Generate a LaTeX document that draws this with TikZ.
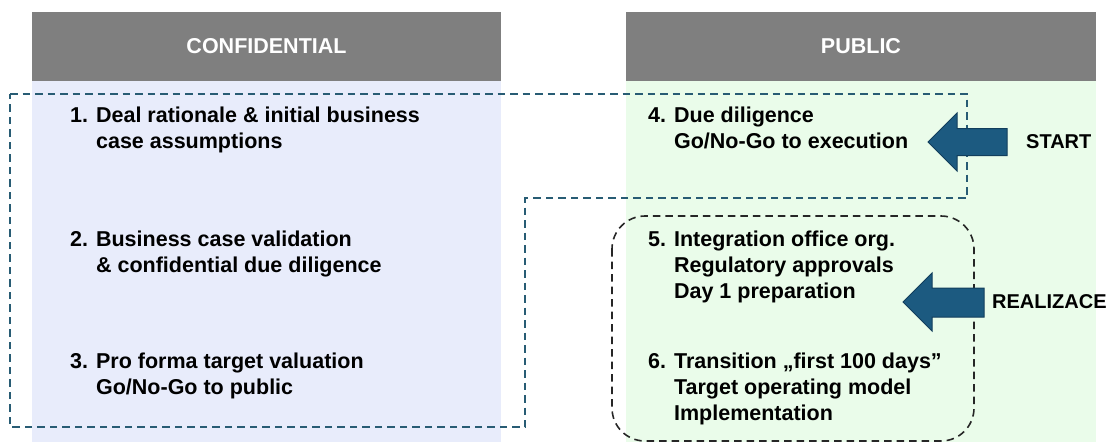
\documentclass[tikz,border=0pt]{standalone}
\usepackage{fontspec}
\setmainfont{Liberation Sans}
\usetikzlibrary{positioning}

\newcommand{\itemfont}{\bfseries\fontsize{21.5}{26}\selectfont}
\newcommand{\headfont}{\bfseries\fontsize{21.5}{24}\selectfont}
\newcommand{\sidefont}{\bfseries\fontsize{20}{24}\selectfont}

\begin{document}
\begin{tikzpicture}
	[x=1pt,y=-1pt,
	%Styles
	header/.style={fill=headgray,text=white,font=\headfont,minimum height=69pt,inner sep=0pt},
	item/.style={anchor=base west,inner sep=0pt,font=\itemfont},
	sidelabel/.style={anchor=west,inner sep=0pt,font=\sidefont},
	deal line/.style={draw=dealblue,line width=1.6pt,dash pattern=on 7.5pt off 5pt},
	real line/.style={draw=black!85,line width=1.6pt,dash pattern=on 7.5pt off 5pt,rounded corners=33pt},
	big arrow/.style={fill=arrowblue,draw=arrowedge,line width=1pt,line join=miter}
	]
	
	%Colors
	\definecolor{headgray}{RGB}{127,127,127}
	\definecolor{confblue}{RGB}{232,236,251}
	\definecolor{pubgreen}{RGB}{234,252,234}
	\definecolor{dealblue}{RGB}{40,92,116}
	\definecolor{arrowblue}{RGB}{28,90,128}
	\definecolor{arrowedge}{RGB}{18,62,92}
	
	\useasboundingbox (0,0) rectangle (1110,442);
	
	%Columns
	\fill[confblue] (32,81) rectangle (501,442);
	\fill[pubgreen] (626,81) rectangle (1096,442);
	\node[header,minimum width=469pt] (confhead) at (266.5,46.5) {CONFIDENTIAL};
	\node[header,minimum width=470pt] (pubhead) at (861,46.5) {PUBLIC};
	
	%Phases
	\draw[deal line] (10,94) -| (967,198) -- (525,198) |- (10,427) -- cycle;
	\draw[real line] (612,216) rectangle (974,441);
	
	%Steps
	\node[item] (step1) at (70,122) {\begin{tabular}[t]{@{}l@{}}1. Deal rationale \& initial business\\\phantom{1. }case assumptions\end{tabular}};
	\node[item] (step2) at (70,246) {\begin{tabular}[t]{@{}l@{}}2. Business case validation\\\phantom{2. }\& confidential due diligence\end{tabular}};
	\node[item] (step3) at (70,368) {\begin{tabular}[t]{@{}l@{}}3. Pro forma target valuation\\\phantom{3. }Go/No-Go to public\end{tabular}};
	\node[item] (step4) at (648,122) {\begin{tabular}[t]{@{}l@{}}4. Due diligence\\\phantom{4. }Go/No-Go to execution\end{tabular}};
	\node[item] (step5) at (648,246) {\begin{tabular}[t]{@{}l@{}}5. Integration office org.\\\phantom{5. }Regulatory approvals\\\phantom{5. }Day 1 preparation\end{tabular}};
	\node[item] (step6) at (648,368) {\begin{tabular}[t]{@{}l@{}}6. Transition „first 100 days”\\\phantom{6. }Target operating model\\\phantom{6. }Implementation\end{tabular}};
	
	%Arrows
	\filldraw[big arrow] (928,142) -- (957,113) -- (957,128.5) -- (1007,128.5) -- (1007,155.5) -- (957,155.5) -- (957,171) -- cycle;
	\filldraw[big arrow] (903,302) -- (932,273) -- (932,288) -- (984,288) -- (984,317) -- (932,317) -- (932,331) -- cycle;
	\node[sidelabel] (start) at (1026,142) {START};
	\node[sidelabel] (realize) at (992,302) {REALIZACE};
\end{tikzpicture}
\end{document}
